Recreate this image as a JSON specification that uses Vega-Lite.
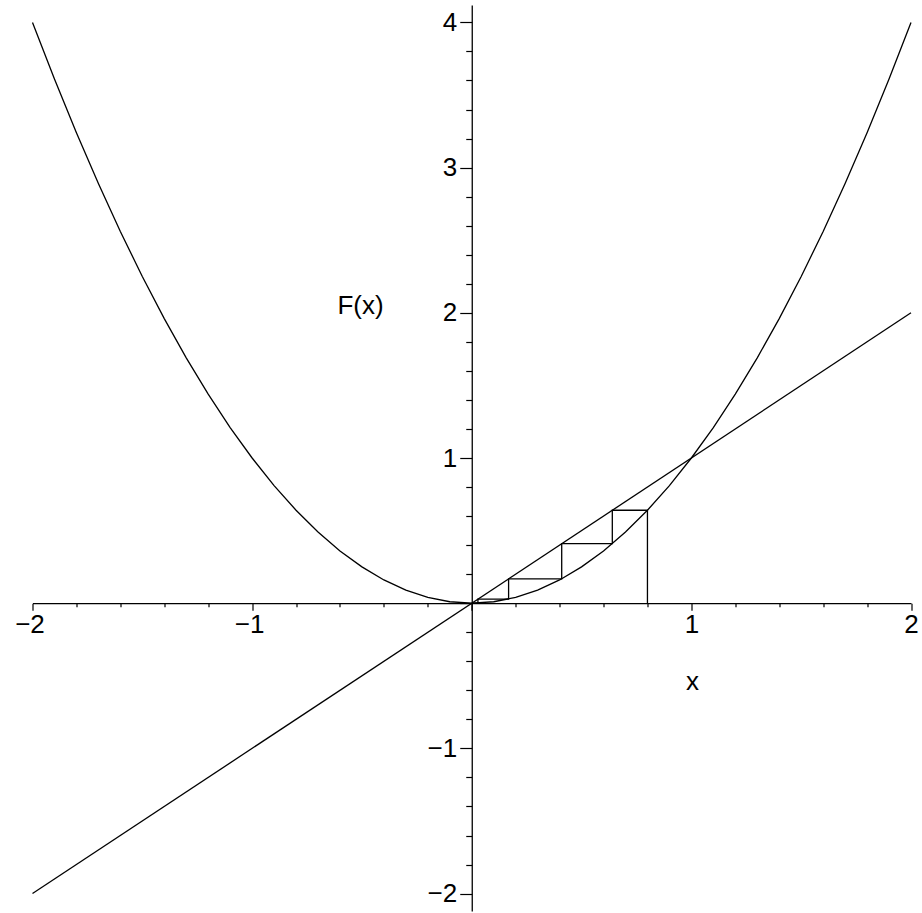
{
  "$schema": "https://vega.github.io/schema/vega-lite/v6.json",
  "width": 878.5,
  "height": 906,
  "autosize": {"type": "none"},
  "padding": {"left": 32.5, "top": 5, "right": 11, "bottom": 2},
  "background": "white",
  "config": {
    "view": {"stroke": null},
    "axis": {
      "domainColor": "black",
      "domainWidth": 1.3,
      "tickColor": "black",
      "tickWidth": 1.2,
      "labelColor": "black",
      "labelFont": "Liberation Sans",
      "labelFontSize": 26,
      "titleColor": "black",
      "titleFont": "Liberation Sans",
      "titleFontSize": 26,
      "titleFontWeight": "normal",
      "grid": false,
      "labelFlush": false,
      "labelOverlap": false,
      "labelBound": false
    }
  },
  "datasets": {
    "parabola": [
      {"x": -2, "y": 4}, {"x": -1.9, "y": 3.61}, {"x": -1.8, "y": 3.24}, {"x": -1.7, "y": 2.89},
      {"x": -1.6, "y": 2.56}, {"x": -1.5, "y": 2.25}, {"x": -1.4, "y": 1.96}, {"x": -1.3, "y": 1.69},
      {"x": -1.2, "y": 1.44}, {"x": -1.1, "y": 1.21}, {"x": -1, "y": 1}, {"x": -0.9, "y": 0.81},
      {"x": -0.8, "y": 0.64}, {"x": -0.7, "y": 0.49}, {"x": -0.6, "y": 0.36}, {"x": -0.5, "y": 0.25},
      {"x": -0.4, "y": 0.16}, {"x": -0.3, "y": 0.09}, {"x": -0.2, "y": 0.04}, {"x": -0.1, "y": 0.01},
      {"x": 0, "y": 0},
      {"x": 0.1, "y": 0.01}, {"x": 0.2, "y": 0.04}, {"x": 0.3, "y": 0.09}, {"x": 0.4, "y": 0.16},
      {"x": 0.5, "y": 0.25}, {"x": 0.6, "y": 0.36}, {"x": 0.7, "y": 0.49}, {"x": 0.8, "y": 0.64},
      {"x": 0.9, "y": 0.81}, {"x": 1, "y": 1}, {"x": 1.1, "y": 1.21}, {"x": 1.2, "y": 1.44},
      {"x": 1.3, "y": 1.69}, {"x": 1.4, "y": 1.96}, {"x": 1.5, "y": 2.25}, {"x": 1.6, "y": 2.56},
      {"x": 1.7, "y": 2.89}, {"x": 1.8, "y": 3.24}, {"x": 1.9, "y": 3.61}, {"x": 2, "y": 4}
    ],
    "diagonal": [
      {"x": -2, "y": -2}, {"x": 2, "y": 2}
    ],
    "cobweb": [
      {"step": 0, "x": 0.8, "y": 0},
      {"step": 1, "x": 0.8, "y": 0.64},
      {"step": 2, "x": 0.64, "y": 0.64},
      {"step": 3, "x": 0.64, "y": 0.4096},
      {"step": 4, "x": 0.4096, "y": 0.4096},
      {"step": 5, "x": 0.4096, "y": 0.16777216},
      {"step": 6, "x": 0.16777216, "y": 0.16777216},
      {"step": 7, "x": 0.16777216, "y": 0.0281475},
      {"step": 8, "x": 0.0281475, "y": 0.0281475},
      {"step": 9, "x": 0.0281475, "y": 0.00079228},
      {"step": 10, "x": 0.00079228, "y": 0.00079228}
    ]
  },
  "encoding": {
    "x": {
      "field": "x",
      "type": "quantitative",
      "scale": {"domain": [-2, 2], "nice": false, "zero": false},
      "axis": {
        "orient": "bottom",
        "offset": -307.8,
        "values": [-2, -1.8, -1.6, -1.4, -1.2, -1, -0.8, -0.6, -0.4, -0.2, 0, 0.2, 0.4, 0.6, 0.8, 1, 1.2, 1.4, 1.6, 1.8, 2],
        "tickSize": {"condition": {"test": "abs(datum.value - round(datum.value)) < 1e-6", "value": 7}, "value": 3.5},
        "labelExpr": "datum.value != 0 && abs(datum.value - round(datum.value)) < 1e-6 ? format(datum.value, 'd') : ''",
        "labelOffset": {"condition": {"test": "datum.value < 0", "value": -3}, "value": 0},
        "labelPadding": 1,
        "title": "x",
        "titleX": 659.5,
        "titleY": 86,
        "titleAlign": "center",
        "titleBaseline": "alphabetic"
      }
    },
    "y": {
      "field": "y",
      "type": "quantitative",
      "scale": {"domain": [-2.12, 4.12], "nice": false, "zero": false},
      "axis": {
        "orient": "left",
        "offset": -439.25,
        "values": [-2, -1.8, -1.6, -1.4, -1.2, -1, -0.8, -0.6, -0.4, -0.2, 0, 0.2, 0.4, 0.6, 0.8, 1, 1.2, 1.4, 1.6, 1.8, 2, 2.2, 2.4, 2.6, 2.8, 3, 3.2, 3.4, 3.6, 3.8, 4],
        "tickSize": {"condition": {"test": "abs(datum.value - round(datum.value)) < 1e-6", "value": 12}, "value": 6},
        "labelExpr": "datum.value != 0 && abs(datum.value - round(datum.value)) < 1e-6 ? format(datum.value, 'd') : ''",
        "labelPadding": 3,
        "title": "F(x)",
        "titleAngle": 0,
        "titleX": -111.75,
        "titleY": 308,
        "titleAlign": "center",
        "titleBaseline": "alphabetic"
      }
    }
  },
  "layer": [
    {
      "data": {"name": "parabola"},
      "mark": {"type": "line", "color": "black", "strokeWidth": 1.3}
    },
    {
      "data": {"name": "diagonal"},
      "mark": {"type": "line", "color": "black", "strokeWidth": 1.3}
    },
    {
      "data": {"name": "cobweb"},
      "mark": {"type": "line", "color": "black", "strokeWidth": 1.3},
      "encoding": {"order": {"field": "step", "type": "quantitative"}}
    }
  ]
}
